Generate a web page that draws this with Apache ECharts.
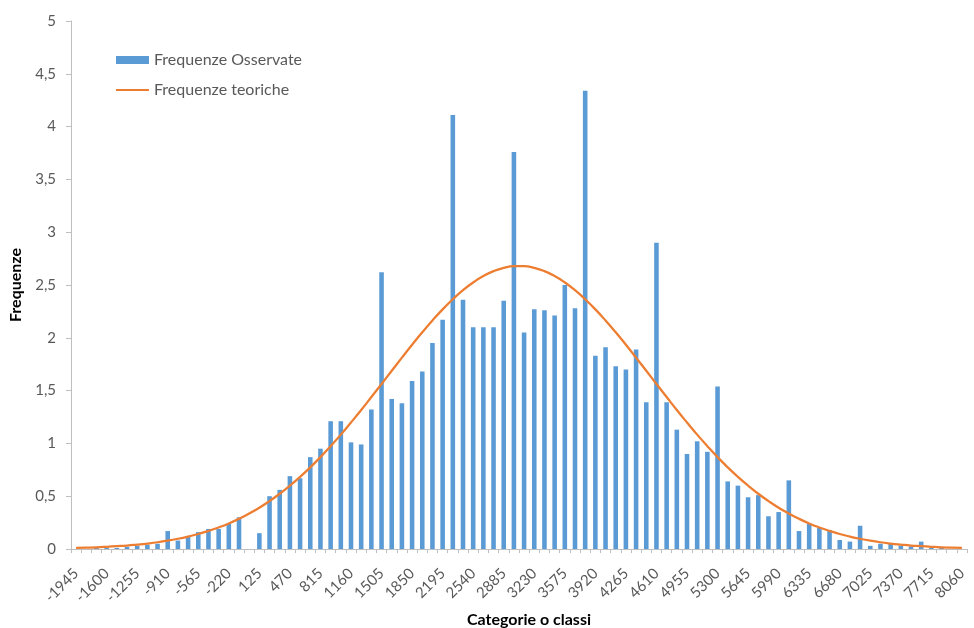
<!DOCTYPE html>
<html>
<head>
<meta charset="utf-8">
<script src="https://cdn.jsdelivr.net/npm/echarts@6/dist/echarts.min.js"></script>
<style>
  html, body { margin: 0; padding: 0; background: #fff; }
  #chart { width: 974px; height: 628px; }
</style>
</head>
<body>
<div id="chart"></div>
<script>
// categorie (classi), passo 115
var categorie = [-1945, -1830, -1715, -1600, -1485, -1370, -1255, -1140, -1025, -910,
    -795, -680, -565, -450, -335, -220, -105, 10, 125, 240,
    355, 470, 585, 700, 815, 930, 1045, 1160, 1275, 1390,
    1505, 1620, 1735, 1850, 1965, 2080, 2195, 2310, 2425, 2540,
    2655, 2770, 2885, 3000, 3115, 3230, 3345, 3460, 3575, 3690,
    3805, 3920, 4035, 4150, 4265, 4380, 4495, 4610, 4725, 4840,
    4955, 5070, 5185, 5300, 5415, 5530, 5645, 5760, 5875, 5990,
    6105, 6220, 6335, 6450, 6565, 6680, 6795, 6910, 7025, 7140,
    7255, 7370, 7485, 7600, 7715, 7830, 7945, 8060];

// frequenze osservate (barre)
var osservate = [0, 0, 0.01, 0.01, 0.01, 0.02, 0.03, 0.04, 0.05, 0.17,
    0.08, 0.12, 0.16, 0.19, 0.19, 0.24, 0.30, 0, 0.15, 0.50,
    0.56, 0.69, 0.67, 0.87, 0.95, 1.21, 1.21, 1.01, 0.99, 1.32,
    2.62, 1.42, 1.38, 1.59, 1.68, 1.95, 2.17, 4.11, 2.36, 2.10,
    2.10, 2.10, 2.35, 3.76, 2.05, 2.27, 2.26, 2.21, 2.50, 2.28,
    4.34, 1.83, 1.91, 1.73, 1.70, 1.89, 1.39, 2.90, 1.39, 1.13,
    0.90, 1.02, 0.92, 1.54, 0.64, 0.60, 0.49, 0.51, 0.31, 0.35,
    0.65, 0.17, 0.24, 0.20, 0.18, 0.085, 0.07, 0.22, 0.03, 0.05,
    0.05, 0.03, 0.025, 0.07, 0.01, 0.01, 0, 0];

// frequenze teoriche (curva)
var teoriche = [0.010, 0.013, 0.016, 0.021, 0.027, 0.033, 0.042, 0.052, 0.064, 0.079,
    0.097, 0.118, 0.142, 0.171, 0.204, 0.242, 0.286, 0.336, 0.391, 0.454,
    0.523, 0.600, 0.683, 0.773, 0.870, 0.974, 1.083, 1.198, 1.316, 1.439,
    1.563, 1.688, 1.812, 1.934, 2.052, 2.164, 2.269, 2.365, 2.451, 2.524,
    2.585, 2.631, 2.662, 2.678, 2.678, 2.662, 2.631, 2.585, 2.524, 2.451,
    2.365, 2.269, 2.164, 2.052, 1.934, 1.812, 1.688, 1.563, 1.439, 1.316,
    1.198, 1.083, 0.974, 0.870, 0.773, 0.683, 0.600, 0.523, 0.454, 0.391,
    0.336, 0.286, 0.242, 0.204, 0.171, 0.142, 0.118, 0.097, 0.079, 0.064,
    0.052, 0.042, 0.033, 0.027, 0.021, 0.016, 0.013, 0.010];

var font = 'Lato, "Open Sans", sans-serif';
var grigio = '#595959';

var myChart = echarts.init(document.getElementById('chart'));
var option = {
    animation: false,
    textStyle: { fontFamily: font },
    grid: { left: 71, right: 7, top: 21, bottom: 79, outerBoundsMode: 'none', containLabel: false },
    legend: {
        orient: 'vertical',
        left: 110,
        top: 47,
        itemWidth: 33,
        itemHeight: 8,
        itemGap: 14,
        textStyle: { color: grigio, fontSize: 16, fontFamily: font },
        data: [
            { name: 'Frequenze Osservate', icon: 'rect' },
            // solo la linea, senza il cerchio
            { name: 'Frequenze teoriche', itemStyle: { opacity: 0, color: 'transparent', borderWidth: 0 } }
        ]
    },
    xAxis: {
        type: 'category',
        data: categorie,
        name: 'Categorie o classi',
        nameLocation: 'middle',
        nameGap: 62,
        nameTextStyle: { color: '#000', fontWeight: 'bold', fontSize: 16, padding: [0, 0, 0, 20] },
        axisLine: { lineStyle: { color: '#bfbfbf' } },
        axisTick: { show: true, interval: 0, length: 4, lineStyle: { color: '#bfbfbf' } },
        axisLabel: {
            interval: 2,
            rotate: 45,
            color: grigio,
            fontSize: 15,
            margin: 22
        },
        splitLine: { show: false }
    },
    yAxis: {
        type: 'value',
        min: 0,
        max: 5,
        interval: 0.5,
        name: 'Frequenze',
        nameLocation: 'middle',
        nameRotate: 90,
        nameGap: 43,
        nameTextStyle: { color: '#000', fontWeight: 'bold', fontSize: 16 },
        axisLine: { show: true, lineStyle: { color: '#bfbfbf' } },
        axisTick: { show: true, length: 5, lineStyle: { color: '#bfbfbf' } },
        axisLabel: {
            color: grigio,
            fontSize: 15,
            margin: 15,
            formatter: function (v) {
                // virgola decimale
                return String(v).replace('.', ',');
            }
        },
        splitLine: { show: false }
    },
    series: [
        {
            name: 'Frequenze Osservate',
            type: 'bar',
            data: osservate,
            barWidth: '45%',
            itemStyle: { color: '#5b9bd5' }
        },
        {
            name: 'Frequenze teoriche',
            type: 'line',
            data: teoriche,
            smooth: true,
            symbol: 'none',
            lineStyle: { color: '#ed7d31', width: 2.25 },
            itemStyle: { color: '#ed7d31' }
        }
    ]
};
myChart.setOption(option);
</script>
</body>
</html>
